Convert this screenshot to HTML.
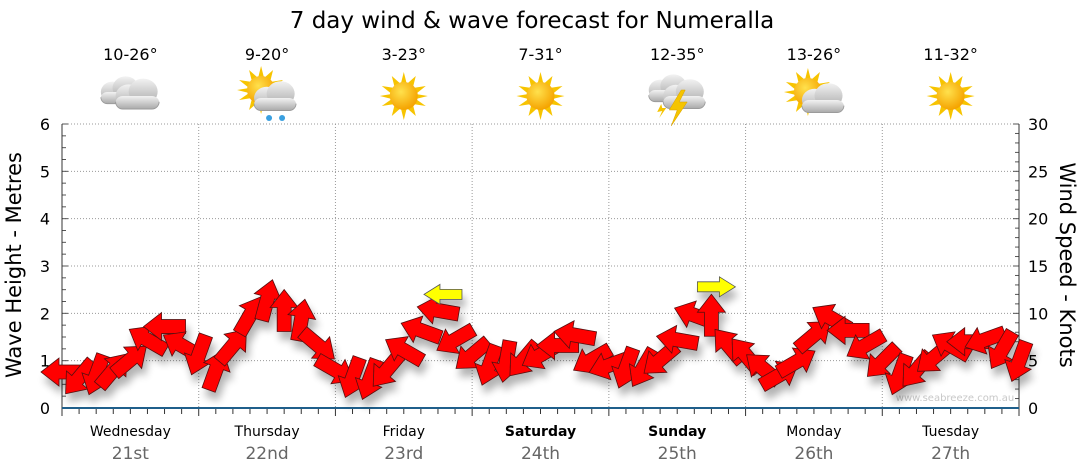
<!DOCTYPE html>
<html><head><meta charset="utf-8">
<style>
body{margin:0;background:#fff;}
svg{display:block;font-family:"DejaVu Sans","Liberation Sans",sans-serif;}
</style></head>
<body>
<svg id="chart" width="1080" height="475" viewBox="0 0 1080 475">
<defs>
<radialGradient id="sunG" cx="40%" cy="35%" r="65%"><stop offset="0" stop-color="#ffe14d"/><stop offset="1" stop-color="#f5a300"/></radialGradient>
<linearGradient id="cloudG" x1="0" y1="0" x2="0" y2="1"><stop offset="0" stop-color="#f2f2f2"/><stop offset="1" stop-color="#a9a9a9"/></linearGradient>
<filter id="shadow" x="-20%" y="-20%" width="140%" height="160%"><feGaussianBlur in="SourceAlpha" stdDeviation="4"/><feOffset dx="3" dy="8"/><feComponentTransfer><feFuncA type="linear" slope="0.3"/></feComponentTransfer><feMerge><feMergeNode/><feMergeNode in="SourceGraphic"/></feMerge></filter>
<g id="sun"><polygon fill="#f7c400" points="0,-24 3,-12 12,-20 9,-8 22,-10 12,-2 24,0 12,3 22,10 9,8 12,20 3,12 0,24 -3,12 -12,20 -9,8 -22,10 -12,3 -24,0 -12,-2 -22,-10 -9,-8 -12,-20 -3,-12"/><circle r="14" fill="url(#sunG)"/></g>
<g id="cloud"><ellipse cx="-6" cy="0" rx="9" ry="8" fill="url(#cloudG)"/><ellipse cx="4" cy="-3" rx="10" ry="9" fill="url(#cloudG)"/><rect x="-15" y="0" width="30" height="9" rx="5" fill="url(#cloudG)"/><path d="M-15,4 a5,5 0 0 0 5,5 h20 a5,5 0 0 0 5,-5" fill="none" stroke="#999" stroke-width="0.6"/></g>
</defs>
<text x="532" y="28" font-size="23" text-anchor="middle" fill="#000">7 day wind &amp; wave forecast for Numeralla</text>
<g id="grid"></g>
<g id="axes"></g>
<g id="days"></g>
<g id="icons"></g>
<text x="955" y="401" font-size="10" fill="#c8c8c8" text-anchor="middle">www.seabreeze.com.au</text>
<g id="arrows" filter="url(#shadow)"></g>
<text transform="translate(21,265) rotate(-90)" font-size="21" text-anchor="middle">Wave Height - Metres</text>
<text transform="translate(1060,265) rotate(90)" font-size="21" text-anchor="middle">Wind Speed - Knots</text>
</svg>
<script>
const dayNames=["Wednesday","Thursday","Friday","Saturday","Sunday","Monday","Tuesday"];
const dayDates=["21st","22nd","23rd","24th","25th","26th","27th"];
const dayBold=[false,false,false,true,true,false,false];
const tempRanges=["10-26°","9-20°","3-23°","7-31°","12-35°","13-26°","11-32°"];
const weatherIcons=["cloudy","showers","sunny","sunny","storm","partly","sunny"];
const waveTicks=[0,1,2,3,4,5,6];
const windTicks=[0,5,10,15,20,25,30];
// wind speed (knots) every 3 hours, and direction arrow points to (compass degrees)
const windSpeed=[3.8,3.2,3.5,4.0,5.1,7.2,8.6,6.6, 5.6,4.0,6.6,9.8,11.4,10.3,9.3,6.6, 4.0,3.2,3.0,4.0,6.1,8.2,10.3,7.2, 5.6,4.5,4.9,5.1,5.6,6.6,7.7,5.1, 4.5,4.2,4.2,5.1,7.2,9.8,9.8,6.6, 5.6,4.2,3.5,4.9,7.7,9.5,8.2,6.6, 4.9,3.5,4.0,5.3,6.6,7.0,7.2,6.1,4.9];
const windDir=[270,220,200,40,50,300,270,300, 200,20,40,30,15,0,10,130, 120,200,200,220,300,290,280,240, 230,200,190,220,240,270,280,240, 250,200,210,230,280,290,0,320, 320,310,60,60,50,300,270,240, 225,200,220,230,300,270,250,210,200];
const gustIdx=[22,38];
const gustSpeed=[12.0,12.8];
const gustDir=[270,90];

const NS="http://www.w3.org/2000/svg";
const X0=62,X1=1019,Y0=408,Y6=124;
const dayW=(X1-X0)/7;
const yWave=v=>Y0-(Y0-Y6)*v/6;
const yWind=v=>Y0-(Y0-Y6)*v/30;
const xTime=i=>X0+i*dayW/8;
function el(tag,attrs,parent){const e=document.createElementNS(NS,tag);for(const k in attrs)e.setAttribute(k,attrs[k]);parent.appendChild(e);return e;}
const grid=document.getElementById('grid'),axes=document.getElementById('axes'),days=document.getElementById('days'),icons=document.getElementById('icons'),arrows=document.getElementById('arrows');

waveTicks.forEach(v=>{
  if(v>0){const g=el('line',{x1:X0,x2:X1,y1:yWave(v),y2:yWave(v),stroke:'#999','stroke-dasharray':'1,2'},grid);
  
  }
  const t=el('text',{x:50,y:yWave(v)+6,'font-size':16,'text-anchor':'end'},axes);t.textContent=v;
  
  
});
for(let q=0;q<=24;q++){const y=yWave(q/4);el('line',{x1:X0,x2:X0+(q%4?4:6),y1:y,y2:y,stroke:'#555'},axes);}
windTicks.forEach(v=>{
  const t=el('text',{x:1028,y:yWind(v)+6,'font-size':16},axes);t.textContent=v;
  
  
});
for(let k=0;k<=30;k++){const y=yWind(k);el('line',{x1:X1,x2:X1-(k%5?4:6),y1:y,y2:y,stroke:'#555'},axes);}
el('line',{x1:X0,x2:X0,y1:Y6,y2:Y0,stroke:'#333'},axes);
el('line',{x1:X1,x2:X1,y1:Y6,y2:Y0,stroke:'#333'},axes);
for(let d=1;d<7;d++){const x=X0+d*dayW;const g=el('line',{x1:x,x2:x,y1:Y6,y2:Y0,stroke:'#999','stroke-dasharray':'1,2'},grid);
  
  }
for(let i=0;i<=56;i++){const x=xTime(i);el('line',{x1:x,x2:x,y1:Y0,y2:Y0+(i%8?6:8),stroke:'#333'},axes);}
el('line',{x1:X0,x2:X1,y1:Y0,y2:Y0,stroke:'#1f5f8b','stroke-width':2},axes);

dayNames.forEach((n,d)=>{
  const cx=X0+(d+0.5)*dayW;
  const t=el('text',{x:cx,y:436,'font-size':14,'text-anchor':'middle','font-weight':dayBold[d]?'bold':'normal'},days);t.textContent=n;
  
  
  const t2=el('text',{x:cx,y:459,'font-size':17,'text-anchor':'middle',fill:'#666'},days);t2.textContent=dayDates[d];
  
  
  const t3=el('text',{x:cx,y:60,'font-size':16,'text-anchor':'middle'},icons);t3.textContent=tempRanges[d];
  
  
  const g=el('g',{transform:`translate(${cx},96)`},icons);
  
  
  const w=weatherIcons[d];
  if(w==='sunny'){el('use',{href:'#sun'},g);}
  else if(w==='cloudy'){el('use',{href:'#cloud',transform:'translate(-10,-4) scale(1.3)'},g);el('use',{href:'#cloud',transform:'translate(7,0) scale(1.45)'},g);}
  else if(w==='showers'){el('use',{href:'#sun',transform:'translate(-6,-6)'},g);el('use',{href:'#cloud',transform:'translate(8,2) scale(1.4)'},g);
    el('circle',{cx:2,cy:22,r:3,fill:'#3aa0e0'},g);el('circle',{cx:15,cy:22,r:3,fill:'#3aa0e0'},g);}
  else if(w==='partly'){el('use',{href:'#sun',transform:'translate(-6,-4)'},g);el('use',{href:'#cloud',transform:'translate(9,4) scale(1.4)'},g);}
  else if(w==='storm'){el('use',{href:'#cloud',transform:'translate(-9,-6) scale(1.3)'},g);el('use',{href:'#cloud',transform:'translate(7,0) scale(1.4)'},g);
    el('polygon',{points:'4,-6 -8,14 0,14 -6,30 10,6 2,6 8,-6',fill:'#f5c400',stroke:'#d9a000','stroke-width':0.5},g);
    el('polygon',{points:'-16,8 -20,16 -15,15 -18,22 -11,12 -15,12',fill:'#f5c400'},g);}
});

const AP="-21,-7 3,-7 3,-14 21,0 3,14 3,7 -21,7";
windSpeed.forEach((s,i)=>{
  const x=xTime(i),y=yWind(s),rot=windDir[i]-90;
  const a=el('polygon',{points:AP,fill:'#ff0000',stroke:'#551111','stroke-width':0.8,transform:`translate(${x},${y}) rotate(${rot})`},arrows);
  
  
});
gustIdx.forEach((gi,k)=>{
  const x=xTime(gi)+5,y=yWind(gustSpeed[k]),rot=gustDir[k]-90;
  const a=el('polygon',{points:"-19,-5 3,-5 3,-10 19,0 3,10 3,5 -19,5",fill:'#ffff00',stroke:'#555','stroke-width':0.8,transform:`translate(${x},${y}) rotate(${rot})`},arrows);
  
  
});
</script>
</body></html>
